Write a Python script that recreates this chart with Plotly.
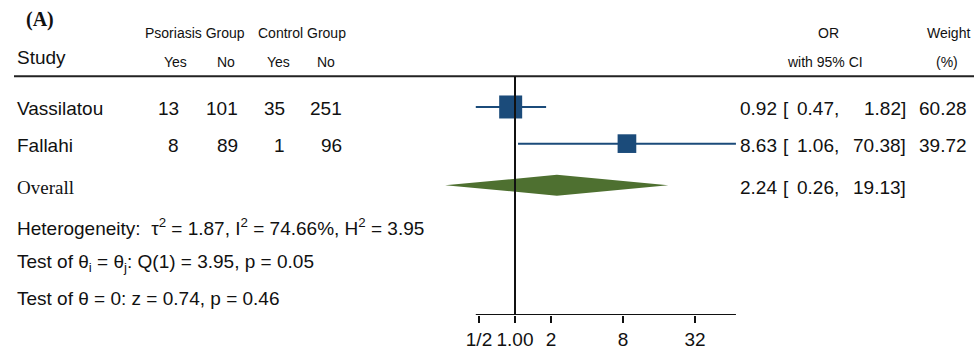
import math
import plotly.graph_objects as go

# ---------------- data ----------------
studies = ["Vassilatou", "Fallahi"]
psor_yes = [13, 8]
psor_no = [101, 89]
ctrl_yes = [35, 1]
ctrl_no = [251, 96]
or_est = [0.92, 8.63]
ci_low = [0.47, 1.06]
ci_high = [1.82, 70.38]
weight = [60.28, 39.72]

overall_label = "Overall"
overall_est = 2.24
overall_low = 0.26
overall_high = 19.13

stats_lines = [
    "Heterogeneity:  τ<sup>2</sup> = 1.87, I<sup>2</sup> = 74.66%, H<sup>2</sup> = 3.95",
    "Test of θ<sub>i</sub> = θ<sub>j</sub>: Q(1) = 3.95, p = 0.05",
    "Test of θ = 0: z = 0.74, p = 0.46",
]

tick_vals = [0.5, 1, 2, 8, 32]
tick_text = ["1/2", "1.00", "2", "8", "32"]

# ---------------- layout constants ----------------
W, H = 974, 350
PLOT_BOTTOM = 318           # pixel y of axis line
X_ONE = 515                 # pixel x of OR = 1
PX_PER_DOUBLING = 36.0

SANS = "Liberation Sans, Arial, sans-serif"
SERIF = "Liberation Serif, Times New Roman, serif"
BOX_COLOR = "#1b4b7a"
DIAMOND_COLOR = "#4e7030"
TXT = "#111111"

row_y = [108, 145]
overall_y = 187
stats_y = [227, 263, 299]
header_line_y = 77
TXT_DY = 2   # annotation boxes center slightly above cap-center


def log10_at_px(px):
    return (px - X_ONE) / PX_PER_DOUBLING * math.log10(2)


def px(x):
    return x / W


fig = go.Figure()

# CI lines
for i in range(len(studies)):
    fig.add_trace(go.Scatter(
        x=[ci_low[i], ci_high[i]], y=[row_y[i], row_y[i]],
        mode="lines", line=dict(color=BOX_COLOR, width=2),
        hoverinfo="skip", showlegend=False))

# weight boxes
k = 23.0 / math.sqrt(max(weight))
fig.add_trace(go.Scatter(
    x=or_est, y=row_y, mode="markers",
    marker=dict(symbol="square", color=BOX_COLOR, opacity=1,
                size=[k * math.sqrt(w) for w in weight], line=dict(width=0)),
    showlegend=False, hoverinfo="skip"))

# overall diamond
hh = 10.5
fig.add_trace(go.Scatter(
    x=[overall_low, overall_est, overall_high, overall_est, overall_low],
    y=[overall_y, overall_y - hh, overall_y, overall_y + hh, overall_y],
    mode="lines", fill="toself", fillcolor=DIAMOND_COLOR,
    line=dict(width=0, color=DIAMOND_COLOR), showlegend=False, hoverinfo="skip"))

shapes = [
    # header rule
    dict(type="line", xref="paper", yref="y", x0=px(14), x1=1,
         y0=header_line_y, y1=header_line_y, line=dict(color="#222", width=2)),
    # null line
    dict(type="line", xref="x", yref="y", x0=1, x1=1,
         y0=header_line_y, y1=PLOT_BOTTOM, line=dict(color="#111", width=2)),
    # axis line
    dict(type="line", xref="x", yref="y", x0=min(ci_low), x1=max(ci_high),
         y0=PLOT_BOTTOM, y1=PLOT_BOTTOM, line=dict(color="#111", width=2)),
]

ann = []


def add_text(x, y, text, anchor="left", size=19, family=SANS, color=TXT):
    ann.append(dict(xref="paper", yref="y", x=px(x), y=y + TXT_DY, text=text,
                    xanchor=anchor, yanchor="middle", showarrow=False,
                    font=dict(family=family, size=size, color=color)))


# title / headers
add_text(40, 18, "<b>(A)</b>", anchor="center", size=20, family=SERIF)
add_text(15, 56, "Study", size=19)
add_text(195, 31, "Psoriasis Group", anchor="center", size=14)
add_text(302, 31, "Control Group", anchor="center", size=14)
for xc, t in zip([175, 226, 278, 326], ["Yes", "No", "Yes", "No"]):
    add_text(xc, 61, t, anchor="center", size=14)
add_text(828, 31, "OR", anchor="center", size=14)
add_text(825, 61, "with 95% CI", anchor="center", size=14)
add_text(948, 31, "Weight", anchor="center", size=14)
add_text(947, 61, "(%)", anchor="center", size=14)

# study rows
for i, s in enumerate(studies):
    y = row_y[i]
    add_text(15, y, s)
    add_text(181, y, str(psor_yes[i]), anchor="right")
    add_text(240, y, str(psor_no[i]), anchor="right")
    add_text(287, y, str(ctrl_yes[i]), anchor="right")
    add_text(344, y, str(ctrl_no[i]), anchor="right")
    add_text(779, y, f"{or_est[i]:.2f}", anchor="right")
    add_text(781, y, "[", anchor="left")
    add_text(841, y, f"{ci_low[i]:.2f},", anchor="right")
    add_text(908, y, f"{ci_high[i]:.2f}]", anchor="right")
    add_text(969, y, f"{weight[i]:.2f}", anchor="right")

# overall row
add_text(15, overall_y, overall_label, size=19, family=SERIF)
add_text(779, overall_y, f"{overall_est:.2f}", anchor="right")
add_text(781, overall_y, "[", anchor="left")
add_text(841, overall_y, f"{overall_low:.2f},", anchor="right")
add_text(908, overall_y, f"{overall_high:.2f}]", anchor="right")

# stats
for y, t in zip(stats_y, stats_lines):
    add_text(15, y, t, size=19)

fig.update_layout(
    width=W, height=H,
    margin=dict(l=0, r=0, t=0, b=H - PLOT_BOTTOM, pad=0),
    paper_bgcolor="white", plot_bgcolor="white",
    shapes=shapes, annotations=ann, showlegend=False,
    xaxis=dict(type="log", range=[log10_at_px(0), log10_at_px(W)],
               tickvals=tick_vals, ticktext=tick_text,
               ticks="outside", ticklen=7, tickwidth=2, tickcolor="#111",
               showgrid=False, zeroline=False, showline=False,
               tickfont=dict(family=SANS, size=19, color=TXT),
               fixedrange=True),
    yaxis=dict(range=[PLOT_BOTTOM, 0], visible=False, showgrid=False,
               zeroline=False, fixedrange=True),
)

fig.write_html("out.html",
               config={"displayModeBar": False},
               post_script="document.body.style.margin='0';document.body.style.overflow='hidden';")
